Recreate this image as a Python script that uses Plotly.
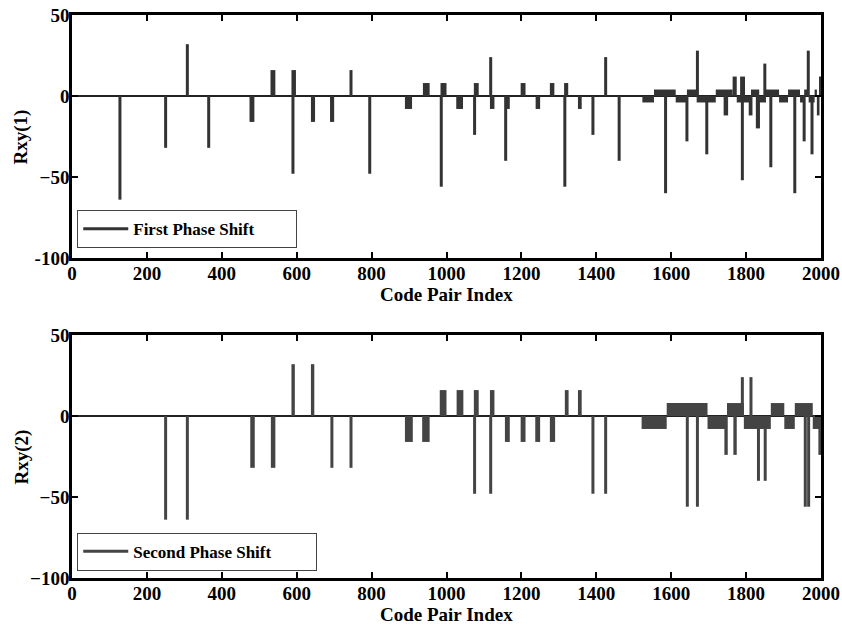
import plotly.graph_objects as go

# ---------------- data: runs of constant cross-correlation ----------------
# First phase shift: run start index, run length, correlation value
p1_start = [124, 246, 304, 361, 474, 530, 586, 586, 638, 689, 741, 791,
            889, 937, 984, 982, 1026, 1073, 1071, 1116, 1114, 1156, 1154,
            1198, 1238, 1276, 1314, 1312, 1351, 1387, 1421, 1457,
            1523, 1554, 1581, 1612, 1638, 1642, 1666, 1668, 1691, 1719, 1740,
            1764, 1775, 1784, 1786, 1807, 1813, 1826, 1835, 1846, 1853, 1862,
            1888, 1912, 1926, 1944, 1951, 1955, 1962, 1967, 1972, 1983, 1989, 1995]
p1_len = [8, 8, 8, 8, 13, 13, 12, 8, 11, 11, 8, 8,
          19, 18, 16, 8, 18, 13, 8, 12, 8, 13, 8,
          13, 12, 12, 11, 8, 10, 8, 8, 8,
          31, 58, 8, 30, 8, 26, 8, 51, 8, 45, 12,
          11, 38, 13, 8, 10, 22, 11, 18, 8, 35, 8,
          24, 32, 8, 11, 8, 12, 8, 16, 8, 6, 7, 5]
p1_val = [-64, -32, 32, -32, -16, 16, 16, -48, -16, -16, 16, -48,
          -8, 8, 8, -56, -8, 8, -24, -8, 24, -8, -40,
          8, -8, 8, 8, -56, -8, -24, 24, -40,
          -4, 4, -60, -4, -28, 4, 28, -4, -36, 4, -12,
          12, -4, 12, -52, -12, 4, -20, -4, 20, 4, -44,
          -4, 4, -60, -4, -28, 4, 28, -4, -36, 4, -12, 12]

# Second phase shift
p2_start = [246, 304, 476, 531, 586, 638, 690, 741,
            889, 935, 982, 1027, 1073, 1071, 1116, 1114, 1156, 1198, 1237, 1276,
            1316, 1351, 1387, 1421,
            1521, 1588, 1639, 1666, 1697, 1742, 1749, 1766, 1794, 1786, 1809,
            1829, 1847, 1866, 1902, 1930, 1954, 1963, 1978, 1993]
p2_len = [8, 8, 12, 12, 9, 9, 8, 8,
          21, 20, 18, 18, 13, 8, 12, 8, 13, 13, 13, 14,
          10, 10, 8, 8,
          67, 109, 8, 8, 52, 9, 45, 9, 72, 8, 8,
          8, 8, 36, 28, 48, 8, 8, 22, 7]
p2_val = [-64, -64, -32, -32, 32, 32, -32, -32,
          -16, -16, 16, 16, 16, -48, 16, -48, -16, -16, -16, -16,
          16, 16, -48, -48,
          -8, 8, -56, -56, -8, -24, 8, -24, -8, 24, 24,
          -40, -40, 8, -8, 8, -56, -56, -8, -24]

x_ticks = [0, 200, 400, 600, 800, 1000, 1200, 1400, 1600, 1800, 2000]
y_ticks = [-100, -50, 0, 50]
y1_ticktext = ["-100", "\u221250", "0", "50"]
y2_ticktext = ["\u2212100", "\u221250", "0", "50"]

FONT = "Liberation Serif"
C1 = "#333333"
C2 = "#444444"

fig = go.Figure()

fig.add_trace(go.Bar(x=p1_start, y=p1_val, width=p1_len, offset=0,
                     marker=dict(color=C1, line=dict(width=0)),
                     xaxis="x", yaxis="y", showlegend=False))
fig.add_trace(go.Bar(x=p2_start, y=p2_val, width=p2_len, offset=0,
                     marker=dict(color=C2, line=dict(width=0)),
                     xaxis="x2", yaxis="y2", showlegend=False))
# legend entries (line samples)
fig.add_trace(go.Scatter(x=[None], y=[None], mode="lines", name="First Phase Shift",
                         line=dict(color=C1, width=3), xaxis="x", yaxis="y",
                         legend="legend"))
fig.add_trace(go.Scatter(x=[None], y=[None], mode="lines", name="Second Phase Shift",
                         line=dict(color=C2, width=3), xaxis="x2", yaxis="y2",
                         legend="legend2"))

axis_common = dict(showline=True, linecolor="black", linewidth=2.5, mirror="allticks",
                   ticks="inside", ticklen=6, tickwidth=2, tickcolor="black",
                   showgrid=False, automargin=False,
                   tickfont=dict(family=FONT, size=19, color="black", weight="bold"))

xcommon = dict(axis_common, range=[0, 2000], tickvals=x_ticks, zeroline=False,
               ticklabelstandoff=-4)
ycommon = dict(axis_common, range=[-100, 50], tickvals=y_ticks,
               zeroline=True, zerolinecolor="#222", zerolinewidth=2,
               ticklabelstandoff=-4)

title_font = dict(family=FONT, size=19, color="black")
annotations = [
    dict(text="<b>Code Pair Index</b>", xref="paper", yref="paper", x=0.5, y=0.5035,
         xanchor="center", yanchor="middle", showarrow=False, font=title_font),
    dict(text="<b>Code Pair Index</b>", xref="paper", yref="paper", x=0.5, y=-0.0648,
         xanchor="center", yanchor="middle", showarrow=False, font=title_font),
    dict(text="<b>Rxy(1)</b>", xref="paper", yref="paper", x=-0.0668, y=0.7842,
         xanchor="center", yanchor="middle", textangle=-90, showarrow=False, font=title_font),
    dict(text="<b>Rxy(2)</b>", xref="paper", yref="paper", x=-0.0668, y=0.2158,
         xanchor="center", yanchor="middle", textangle=-90, showarrow=False, font=title_font),
]

fig.update_layout(
    width=842, height=626,
    margin=dict(l=72, r=21, t=15, b=48),
    paper_bgcolor="white", plot_bgcolor="white",
    barmode="overlay",
    xaxis=dict(xcommon, domain=[0, 1], anchor="y"),
    yaxis=dict(ycommon, domain=[0.5684, 1], anchor="x", ticktext=y1_ticktext),
    xaxis2=dict(xcommon, domain=[0, 1], anchor="y2"),
    yaxis2=dict(ycommon, domain=[0, 0.4316], anchor="x2", ticktext=y2_ticktext),
    annotations=annotations,
    legend=dict(x=0.007, y=0.586, xanchor="left", yanchor="bottom",
                bgcolor="white", bordercolor="#444", borderwidth=1,
                orientation="h", entrywidth=158, itemwidth=45,
                font=dict(family=FONT, size=17, color="black", weight="bold")),
    legend2=dict(x=0.007, y=0.013, xanchor="left", yanchor="bottom",
                 bgcolor="white", bordercolor="#444", borderwidth=1,
                 orientation="h", entrywidth=178, itemwidth=45,
                 font=dict(family=FONT, size=17, color="black", weight="bold")),
)

fig.write_html("out.html", config={"displayModeBar": False},
               post_script="document.body.style.margin='0';")
